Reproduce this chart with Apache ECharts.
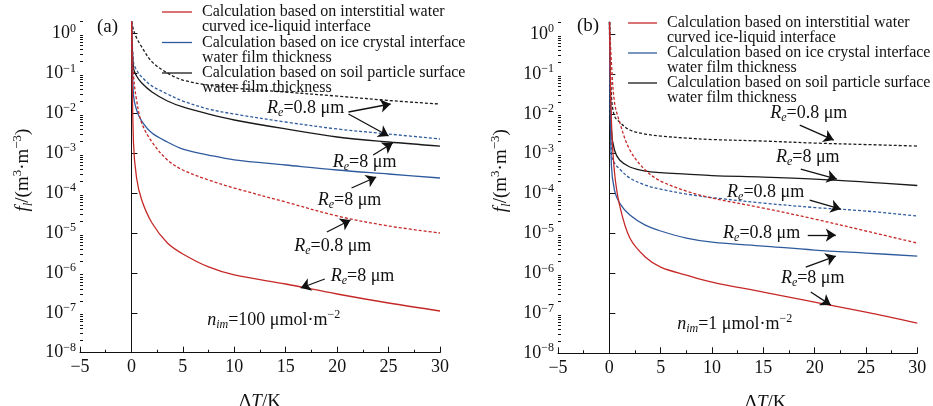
<!DOCTYPE html>
<html>
<head>
<meta charset="utf-8">
<script src="https://cdn.jsdelivr.net/npm/echarts@6/dist/echarts.min.js"></script>
<style>
html, body { margin: 0; padding: 0; background: #fff; }
#main { width: 933px; height: 406px; }
</style>
</head>
<body>
<div id="main"></div>
<script>
// ΔT (K) where the curves were read
const dT = [0.02, 0.2, 0.5, 1, 2, 3.5, 5, 7.5, 10, 15, 20, 25, 30];

// (a) n_im = 100 μmol·m-2
const aRedSolid   = [2, 1.8e-3, 2.39e-4, 6.71e-5, 1.78e-5, 5.61e-6, 2.98e-6, 1.41e-6, 8.9e-7, 5.27e-7, 2.96e-7, 1.76e-7, 1.11e-7];
const aRedDash    = [2, 0.0912, 0.0215, 5.71e-3, 1.91e-3, 6.76e-4, 3.79e-4, 2.13e-4, 1.34e-4, 5.98e-5, 2.67e-5, 1.5e-5, 1.0e-5];
const aBlueSolid  = [2, 0.0288, 0.0121, 6.4e-3, 3.21e-3, 1.91e-3, 1.27e-3, 9.0e-4, 6.8e-4, 5.06e-4, 3.79e-4, 3.01e-4, 2.39e-4];
const aBlueDash   = [2, 0.193, 0.122, 0.0813, 0.0483, 0.0305, 0.0203, 0.0128, 9.6e-3, 6.05e-3, 4.05e-3, 3.03e-3, 2.27e-3];
const aBlackSolid = [2, 0.136, 0.0861, 0.0574, 0.0342, 0.0203, 0.0144, 9.6e-3, 6.8e-3, 4.05e-3, 2.55e-3, 1.91e-3, 1.51e-3];
const aBlackDash  = [2, 1.23, 0.78, 0.46, 0.195, 0.102, 0.068, 0.051, 0.043, 0.034, 0.027, 0.021, 0.017];

// (b) n_im = 1 μmol·m-2
const bRedSolid   = [2, 7.0e-3, 3.48e-4, 5.18e-5, 7.71e-6, 2.58e-6, 1.45e-6, 9.12e-7, 6.08e-7, 3.42e-7, 1.92e-7, 1.08e-7, 5.71e-8];
const bRedDash    = [2, 0.199, 0.0198, 6.22e-3, 1.24e-3, 3.9e-4, 2.07e-4, 1.16e-4, 7.76e-5, 4.35e-5, 2.31e-5, 1.16e-5, 5.78e-6];
const bBlueSolid  = [2, 5.21e-4, 1.23e-4, 5.81e-5, 2.91e-5, 1.63e-5, 1.16e-5, 7.71e-6, 6.12e-6, 4.86e-6, 3.86e-6, 3.24e-6, 2.73e-6];
const bBlueDash   = [2, 9.28e-4, 5.85e-4, 4.14e-4, 2.46e-4, 1.64e-4, 1.30e-4, 9.77e-5, 7.98e-5, 5.81e-5, 4.49e-5, 3.66e-5, 2.75e-5];
const bBlackSolid = [2, 3.93e-3, 1.24e-3, 6.95e-4, 4.65e-4, 3.68e-4, 3.38e-4, 3.10e-4, 2.84e-4, 2.61e-4, 2.32e-4, 1.95e-4, 1.60e-4];
const bBlackDash  = [2, 0.0296, 8.81e-3, 6.22e-3, 3.93e-3, 3.12e-3, 2.78e-3, 2.47e-3, 2.27e-3, 2.08e-3, 1.85e-3, 1.70e-3, 1.56e-3];

// axis ticks
const yTicks = [1e-8, 1e-7, 1e-6, 1e-5, 1e-4, 1e-3, 1e-2, 1e-1, 1];
const yMinor = [];
yTicks.forEach(t => { for (let k = 2; k <= 9; k++) yMinor.push(t * k); });

const legendNames = [
  'Calculation based on interstitial water\ncurved ice-liquid interface',
  'Calculation based on ice crystal interface\nwater film thickness',
  'Calculation based on soil particle surface\nwater film thickness'
];

// annotations: [text, ΔT, log10 f]
const annoA = [
  ['{i|R}{sub|e}=0.8 μm', 16.94, -1.867],
  ['{i|R}{sub|e}=8 μm', 22.67, -3.221],
  ['{i|R}{sub|e}=8 μm', 21.2, -4.173],
  ['{i|R}{sub|e}=0.8 μm', 19.57, -5.326],
  ['{i|R}{sub|e}=8 μm', 22.47, -6.078],
  ['{i|n}{sub|im}=100 μmol·m{sup|−2}', 13.83, -7.18]
];
const arrowsA = [
  [21.1, -1.967, 25.2, -1.767],
  [21.1, -2.018, 25.0, -2.569],
  [23.5, -3.045, 25.4, -2.744],
  [21.4, -3.872, 23.8, -3.596],
  [19.0, -4.975, 21.3, -4.674],
  [18.8, -6.153, 16.46, -6.378]
];
const annoB = [
  ['{i|R}{sub|e}=0.8 μm', 19.43, -1.980],
  ['{i|R}{sub|e}=8 μm', 19.33, -3.083],
  ['{i|R}{sub|e}=0.8 μm', 15.23, -3.960],
  ['{i|R}{sub|e}=0.8 μm', 14.84, -4.987],
  ['{i|R}{sub|e}=8 μm', 19.81, -6.115],
  ['{i|n}{sub|im}=1 μmol·m{sup|−2}', 12.21, -7.268]
];
const arrowsB = [
  [18.55, -2.281, 21.86, -2.657],
  [18.65, -3.383, 22.16, -3.634],
  [19.52, -4.160, 22.54, -4.386],
  [19.33, -5.038, 22.06, -5.038],
  [19.13, -5.840, 22.06, -5.564],
  [19.62, -6.466, 21.57, -6.792]
];

const FONT = '"Liberation Serif", "Times New Roman", serif';
const INK = '#111';
const RED = '#c62828';
const BLUE = '#2f5b9e';
const BLACK = '#1a1a1a';

const rich = {
  i: { fontStyle: 'italic', fontFamily: FONT, fontSize: 18, color: INK },
  sub: { fontStyle: 'italic', fontFamily: FONT, fontSize: 12, color: INK, verticalAlign: 'bottom', lineHeight: 12 },
  sup: { fontFamily: FONT, fontSize: 12, color: INK, verticalAlign: 'top', lineHeight: 12 }
};

const pair = ys => dT.map((x, i) => [x, ys[i]]);

function curve(ys, color, dashed, gi, extra) {
  return Object.assign({
    type: 'line',
    xAxisIndex: gi,
    yAxisIndex: gi * 2,
    data: pair(ys),
    symbol: 'none',
    smooth: 0.35,
    clip: true,
    silent: true,
    lineStyle: { color: color, width: 1.3, type: dashed ? [3, 2] : 'solid' }
  }, extra || {});
}

function marks(anno, arrows) {
  return {
    markLine: {
      silent: true,
      symbol: ['none', 'arrow'],
      symbolSize: 10,
      lineStyle: { color: INK, width: 1.3, type: 'solid' },
      label: { show: false },
      data: arrows.map(a => [
        { coord: [a[0], Math.pow(10, a[1])] },
        { coord: [a[2], Math.pow(10, a[3])] }
      ])
    },
    markPoint: {
      silent: true,
      symbol: 'circle',
      symbolSize: 1,
      itemStyle: { color: 'rgba(0,0,0,0)' },
      label: {
        show: true, position: 'inside', color: INK, fontFamily: FONT,
        fontSize: 18, lineHeight: 22, rich: rich
      },
      data: anno.map(a => ({
        coord: [a[1], Math.pow(10, a[2])],
        label: { formatter: a[0] }
      }))
    }
  };
}

function xAxis(gi, pad) {
  return {
    type: 'value', gridIndex: gi, min: -5, max: 30, interval: 5,
    name: 'Δ{i|T}/K', nameLocation: 'middle', nameGap: 40,
    nameTextStyle: { fontFamily: FONT, fontSize: 19, color: INK, padding: pad, rich: { i: { fontStyle: 'italic', fontFamily: FONT, fontSize: 19, color: INK } } },
    axisLine: { show: true, lineStyle: { color: INK, width: 1 } },
    axisTick: { show: true, inside: true, length: 6, lineStyle: { color: INK } },
    minorTick: { show: true, splitNumber: 2, length: 3, lineStyle: { color: INK } },
    axisLabel: {
      margin: 6, fontFamily: FONT, fontSize: 18, color: INK,
      formatter: v => v < 0 ? '−' + (-v) : String(v)
    },
    splitLine: { show: false }
  };
}

function yLabel(v) {
  const e = Math.round(Math.log10(v));
  return '10{sup|' + (e < 0 ? '−' + (-e) : e) + '}';
}

function yAxes(gi) {
  return [{
    type: 'log', logBase: 10, gridIndex: gi, position: 'left', min: 1e-8, max: 2,
    name: '{i|f}{sub|l}/(m{sup|3}·m{sup|−3})', nameLocation: 'middle', nameRotate: 90, nameGap: 45,
    nameTextStyle: {
      fontFamily: FONT, fontSize: 19, color: INK, lineHeight: 24, padding: [0, 0, 0, 34],
      rich: {
        i: { fontStyle: 'italic', fontFamily: FONT, fontSize: 19, color: INK },
        sub: { fontStyle: 'italic', fontFamily: FONT, fontSize: 13, color: INK, verticalAlign: 'bottom', lineHeight: 13 },
        sup: { fontFamily: FONT, fontSize: 13, color: INK, verticalAlign: 'top', lineHeight: 13 }
      }
    },
    axisLine: { show: true, lineStyle: { color: INK, width: 1 } },
    axisTick: { show: true, inside: true, length: 6, customValues: yTicks, lineStyle: { color: INK } },
    axisLabel: {
      customValues: yTicks, margin: 4, fontFamily: FONT, fontSize: 18, color: INK,
      lineHeight: 22, formatter: yLabel, rich: rich
    },
    splitLine: { show: false }
  }, {
    type: 'log', logBase: 10, gridIndex: gi, position: 'left', offset: 0, min: 1e-8, max: 2,
    axisLine: { show: false },
    axisTick: { show: true, inside: true, length: 3, customValues: yMinor, lineStyle: { color: INK } },
    axisLabel: { show: false },
    splitLine: { show: false }
  }];
}

function legendGraphics(x0, x1, tx, rows) {
  const cols = [RED, BLUE, BLACK];
  const out = [];
  rows.forEach((y, i) => {
    out.push({ type: 'line', shape: { x1: x0, y1: y, x2: x1, y2: y }, style: { stroke: cols[i], lineWidth: 1.3 } });
    out.push({
      type: 'text', x: tx, y: y - 7.5,
      style: { text: legendNames[i], font: '16px ' + FONT, fill: INK, lineHeight: 15, verticalAlign: 'top' }
    });
  });
  return out;
}

const chart = echarts.init(document.getElementById('main'), null, { renderer: 'canvas' });

chart.setOption({
  backgroundColor: '#fff',
  animation: false,
  grid: [
    { left: 80, right: 493, top: 21.5, bottom: 53.3, containLabel: false, outerBoundsMode: 'none' },
    { left: 558, right: 15.7, top: 22, bottom: 52.7, containLabel: false, outerBoundsMode: 'none' }
  ],
  xAxis: [xAxis(0, [0, 0, 0, 0]), xAxis(1, [0, 0, 0, 56])],
  yAxis: yAxes(0).concat(yAxes(1)),
  series: [
    curve(aBlackDash, BLACK, true, 0),
    curve(aBlackSolid, BLACK, false, 0),
    curve(aBlueDash, BLUE, true, 0),
    curve(aBlueSolid, BLUE, false, 0),
    curve(aRedDash, RED, true, 0),
    curve(aRedSolid, RED, false, 0, marks(annoA, arrowsA)),
    curve(bBlackDash, BLACK, true, 1),
    curve(bBlackSolid, BLACK, false, 1),
    curve(bBlueDash, BLUE, true, 1),
    curve(bBlueSolid, BLUE, false, 1),
    curve(bRedDash, RED, true, 1),
    curve(bRedSolid, RED, false, 1, marks(annoB, arrowsB))
  ],
  graphic: [
    { type: 'text', x: 97, y: 18, style: { text: '(a)', font: '19px ' + FONT, fill: INK } },
    { type: 'text', x: 577, y: 17, style: { text: '(b)', font: '19px ' + FONT, fill: INK } }
  ].concat(legendGraphics(162, 192, 202, [12, 42.5, 73]))
   .concat(legendGraphics(628, 657, 667, [23, 53, 83]))
});
</script>
</body>
</html>
